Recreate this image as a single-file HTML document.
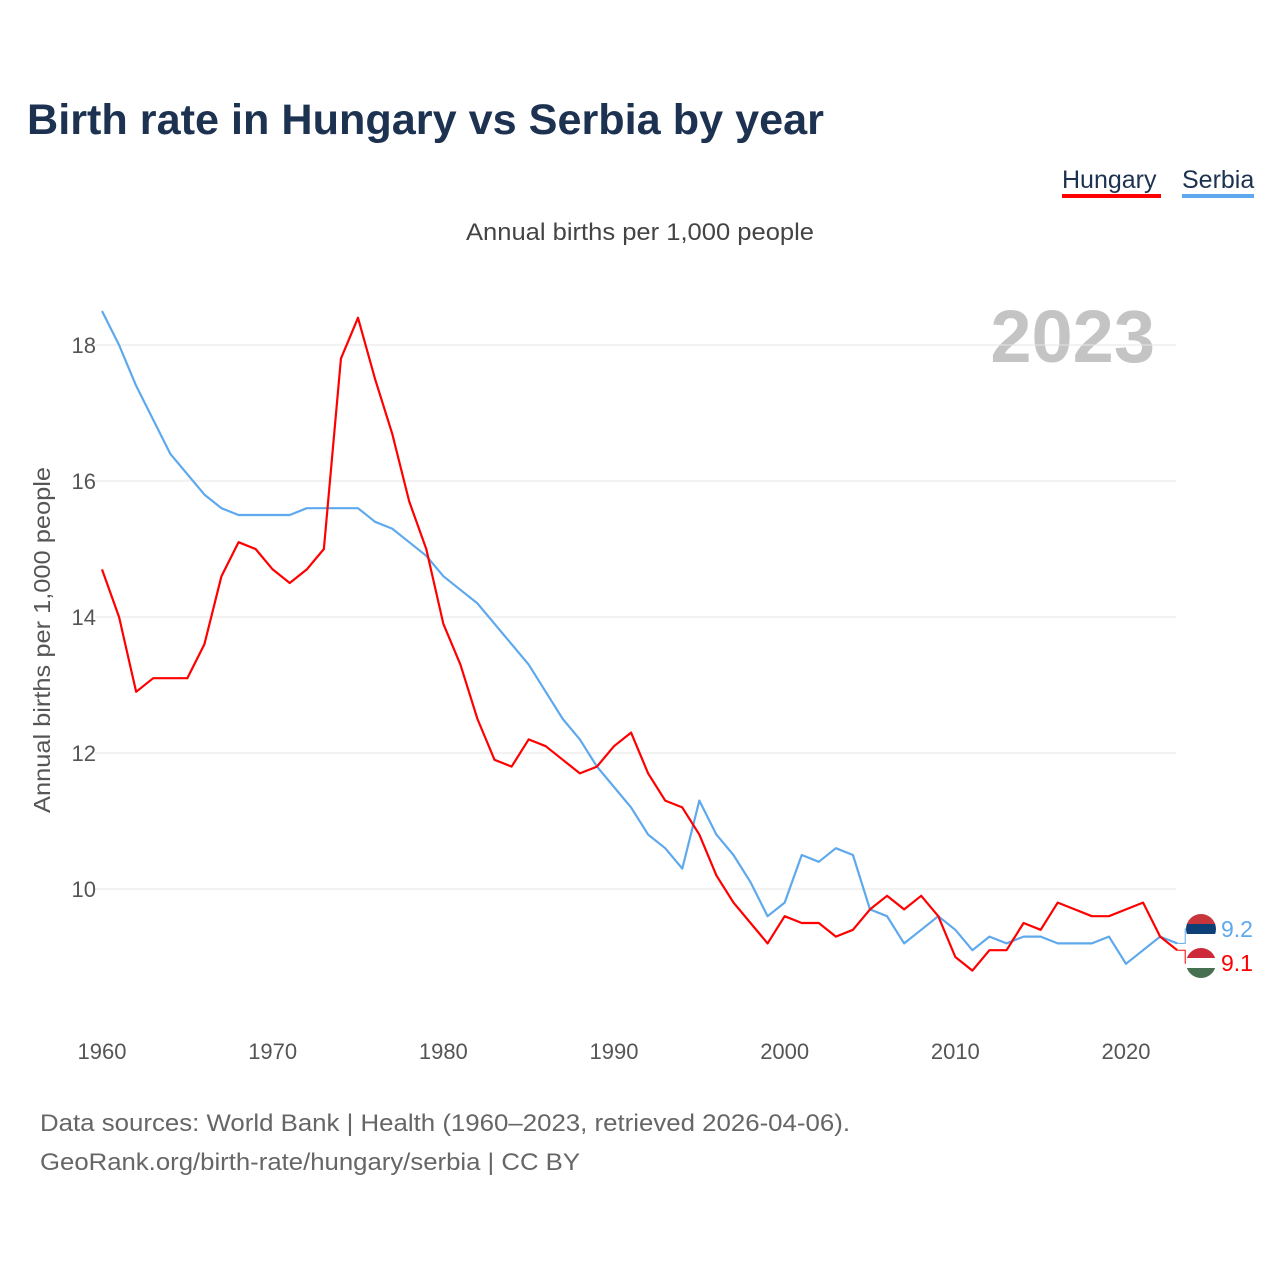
<!DOCTYPE html>
<html><head><meta charset="utf-8">
<style>
body{margin:0;background:#fff;width:1280px;height:1280px;overflow:hidden;font-family:"Liberation Sans",sans-serif;}
svg text{font-family:"Liberation Sans",sans-serif;}
</style></head>
<body>
<svg id="chart" width="1280" height="1280" viewBox="0 0 1280 1280">
<defs>
<clipPath id="cpserbia"><circle cx="1201" cy="929" r="15"/></clipPath>
<clipPath id="cphungary"><circle cx="1201" cy="963" r="15"/></clipPath>
</defs>
<text x="27" y="134" font-size="43" font-weight="bold" fill="#1c3250" textLength="797" lengthAdjust="spacingAndGlyphs">Birth rate in Hungary vs Serbia by year</text>
<g>
<text x="1062" y="188" font-size="25" fill="#1c3250">Hungary</text>
<rect x="1062" y="194" width="99" height="4" fill="#ff0000"/>
<text x="1182" y="188" font-size="25" fill="#1c3250">Serbia</text>
<rect x="1182" y="194" width="72" height="4" fill="#5ea9ed"/>
</g>
<text x="640" y="240" font-size="24" fill="#444" text-anchor="middle" textLength="348" lengthAdjust="spacingAndGlyphs">Annual births per 1,000 people</text>
<text x="1155" y="362" font-size="74" font-weight="bold" fill="#c4c4c4" text-anchor="end">2023</text>
<text transform="translate(50,640) rotate(-90)" font-size="23" fill="#555" text-anchor="middle" textLength="346" lengthAdjust="spacingAndGlyphs">Annual births per 1,000 people</text>
<g id="grid"></g><g id="axes"></g><g id="lines"></g><g id="ends"></g>
<text x="40" y="1131" font-size="24" fill="#666" textLength="810" lengthAdjust="spacingAndGlyphs">Data sources: World Bank | Health (1960–2023, retrieved 2026-04-06).</text>
<text x="40" y="1170" font-size="24" fill="#666" textLength="540" lengthAdjust="spacingAndGlyphs">GeoRank.org/birth-rate/hungary/serbia | CC BY</text>
</svg>
<script>
const years=[];for(let y=1960;y<=2023;y++)years.push(y);
const hungary=[14.7,14.0,12.9,13.1,13.1,13.1,13.6,14.6,15.1,15.0,14.7,14.5,14.7,15.0,17.8,18.4,17.5,16.7,15.7,15.0,13.9,13.3,12.5,11.9,11.8,12.2,12.1,11.9,11.7,11.8,12.1,12.3,11.7,11.3,11.2,10.8,10.2,9.8,9.5,9.2,9.6,9.5,9.5,9.3,9.4,9.7,9.9,9.7,9.9,9.6,9.0,8.8,9.1,9.1,9.5,9.4,9.8,9.7,9.6,9.6,9.7,9.8,9.3,9.1];
const serbia=[18.5,18.0,17.4,16.9,16.4,16.1,15.8,15.6,15.5,15.5,15.5,15.5,15.6,15.6,15.6,15.6,15.4,15.3,15.1,14.9,14.6,14.4,14.2,13.9,13.6,13.3,12.9,12.5,12.2,11.8,11.5,11.2,10.8,10.6,10.3,11.3,10.8,10.5,10.1,9.6,9.8,10.5,10.4,10.6,10.5,9.7,9.6,9.2,9.4,9.6,9.4,9.1,9.3,9.2,9.3,9.3,9.2,9.2,9.2,9.3,8.9,9.1,9.3,9.2];
const yTicks=[10,12,14,16,18];
const xTicks=[1960,1970,1980,1990,2000,2010,2020];
const NS='http://www.w3.org/2000/svg';
const X=y=>102+(y-1960)*(1024/60);
const Y=v=>889-(v-10)*68;
function mk(t,a,p){const e=document.createElementNS(NS,t);for(const k in a)e.setAttribute(k,a[k]);p.appendChild(e);return e;}
const grid=document.getElementById('grid'),axes=document.getElementById('axes');
yTicks.forEach(v=>{
 const l=mk('line',{x1:95,x2:1176,y1:Y(v),y2:Y(v),stroke:'#e6e6e6','stroke-width':1},grid);
 
 
 const t=mk('text',{x:96,y:Y(v)+8,'font-size':22,fill:'#555','text-anchor':'end'},axes);
 t.textContent=v;
 
 
});
xTicks.forEach(v=>{
 const t=mk('text',{x:X(v),y:1059,'font-size':22,fill:'#555','text-anchor':'middle'},axes);
 t.textContent=v;
 
 
});
const lines=document.getElementById('lines');
function series(d,c,n){
 const p=mk('polyline',{points:d.map((v,i)=>X(years[i])+','+Y(v)).join(' '),fill:'none',stroke:c,'stroke-width':2.2,'stroke-linejoin':'round'},lines);
 
 
}
series(serbia,'#5ea9ed','serbia');
series(hungary,'#ff0000','hungary');
const ends=document.getElementById('ends');
const xe=X(2023);
function endLabel(v,c,n,ly,flag){
 const p=mk('polyline',{points:`${xe},${Y(v)} ${xe+8},${Y(v)} ${xe+8},${ly} ${xe+10},${ly}`,fill:'none',stroke:c,'stroke-width':1},ends);
 
 
 const g=mk('g',{'clip-path':'url(#cp'+n+')'},ends);
 
 
 const cx=1201;
 flag.forEach((col,i)=>mk('rect',{x:cx-15,y:ly-15+i*10,width:30,height:10,fill:col},g));
 const t=mk('text',{x:1221,y:ly+8,'font-size':23,fill:c},ends);
 t.textContent=v.toFixed(1);
 
 
}
endLabel(serbia[serbia.length-1],'#5ea9ed','serbia',929,['#c6363c','#0c4076','#ffffff']);
endLabel(hungary[hungary.length-1],'#ff0000','hungary',963,['#ce2939','#ffffff','#477050']);
</script>
</body></html>
